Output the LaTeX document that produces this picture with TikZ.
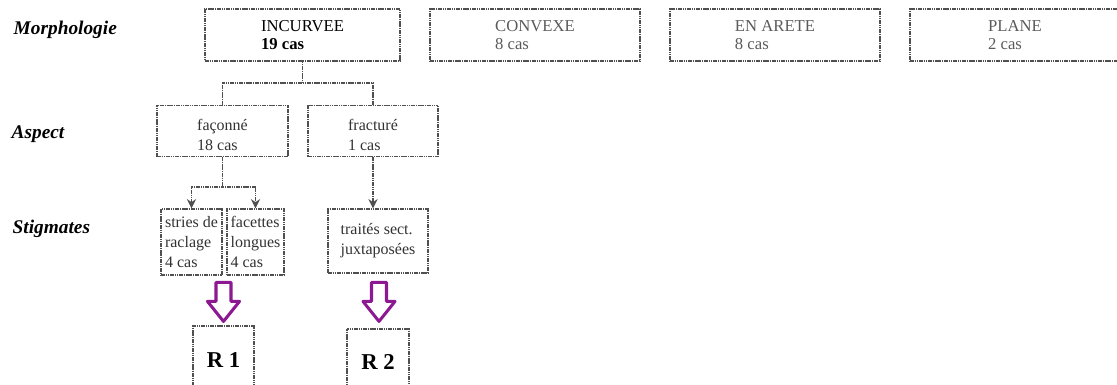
\documentclass[tikz,border=0pt]{standalone}
\usepackage{fontspec}
\setmainfont{Liberation Serif}
\usetikzlibrary{arrows.meta,calc}
\definecolor{purp}{RGB}{140,25,145}
\definecolor{linec}{RGB}{80,80,80}
\definecolor{txtg}{RGB}{90,90,90}
\definecolor{txtd}{RGB}{50,50,50}
\begin{document}
\begin{tikzpicture}[x=0.75pt,y=-0.75pt,
  box/.style={draw=linec, line width=0.9pt, dash pattern=on 1.2pt off 0.5pt, rectangle, inner sep=0pt, align=left},
  topbox/.style={box, minimum width=157.5pt, minimum height=39pt, text=txtg, font=\fontsize{12.5}{13}\selectfont},
  aspbox/.style={box, minimum height=38.25pt, text=txtd, font=\fontsize{12}{15}\selectfont},
  sigbox/.style={box, text=txtd, font=\fontsize{12}{15}\selectfont},
  rbox/.style={box, font=\fontsize{17}{18}\selectfont\bfseries},
  lbl/.style={anchor=west, font=\fontsize{14.5}{16}\selectfont\bfseries\itshape},
  conn/.style={draw=linec, line width=0.9pt, dash pattern=on 1.2pt off 0.5pt},
  arr/.style={conn, -{Stealth[length=7pt,width=7pt]}},
  pics/hollowarrow/.style={code={
    \draw[purp, line width=2.3pt, fill=white, line join=round]
      (-7.5,0) -- (7.5,0) -- (7.5,19) -- (16,19) -- (0,39) -- (-16,19) -- (-7.5,19) -- cycle;}}
]
\useasboundingbox (0,0) rectangle (1117,385);
\clip (0,0) rectangle (1117,385);

% row labels
\node[lbl] (lmorph) at (9,30) {Morphologie};
\node[lbl] (lasp) at (7,134) {Aspect};
\node[lbl] (lsig) at (8,229) {Stigmates};

% morphologie boxes
\node[box, minimum width=146.25pt, minimum height=39pt, font=\fontsize{12.5}{13}\selectfont] (inc) at (302.5,35)
  {INCURVEE\\\textbf{19 cas}};
\node[topbox] (conv) at (535,35) {CONVEXE\\8 cas};
\node[topbox] (aret) at (775,35) {EN ARETE\\8 cas};
\node[topbox] (plan) at (1015,35) {PLANE\\2 cas};

% aspect boxes
\node[aspbox, minimum width=98.25pt] (fac) at (222.5,131) {\rule{0pt}{14pt}façonné\\18 cas};
\node[aspbox, minimum width=97.5pt] (frac) at (373,131) {\rule{0pt}{14pt}fracturé\\1 cas};

% stigmates boxes
\node[sigbox, minimum width=45.75pt, minimum height=49.5pt] (s1) at (191.5,242) {stries de\\raclage\\4 cas};
\node[sigbox, minimum width=42.75pt, minimum height=49.5pt] (s2) at (255.5,242) {facettes\\longues\\4 cas};
\node[sigbox, minimum width=75pt, minimum height=48pt] (s3) at (378,241) {traités sect.\\juxtaposées};

% result boxes
\node[rbox, minimum width=45.75pt, minimum height=51.75pt] (r1) at (223.5,360.5) {R 1};
\node[rbox, minimum width=46.5pt, minimum height=49.5pt] (r2) at (378,362) {R 2};

% connectors
\coordinate (j1) at (302.5,83);
\coordinate (j2) at (222.5,187);
\draw[conn] (inc.south) -- (j1);
\draw[conn] (fac.north) |- (j1) -| (frac.north);
\draw[conn] (fac.south) -- (j2);
\draw[arr] (j2) -| (s1.north);
\draw[arr] (j2) -| (s2.north);
\draw[arr] (frac.south) -- (frac.south |- s3.north);

% purple hollow arrows
\path ($(r1.north)+(0,-43)$) pic {hollowarrow};
\path ($(r2.north)+(1,-46)$) pic {hollowarrow};
\end{tikzpicture}
\end{document}
